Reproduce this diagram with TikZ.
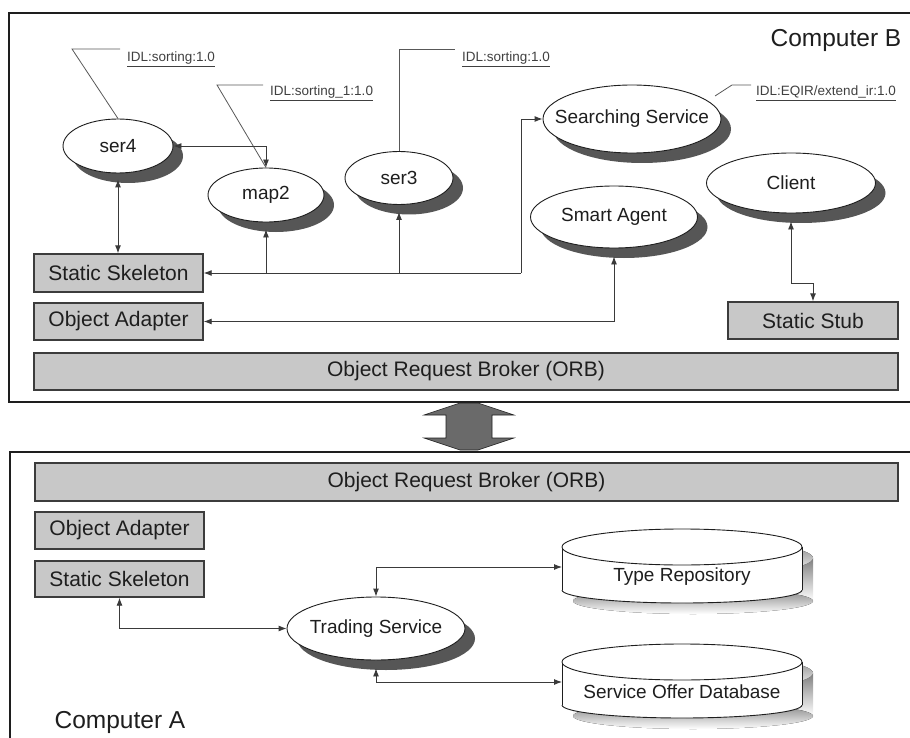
\documentclass[tikz,border=0pt]{standalone}
\usepackage{fontspec}
\setmainfont{Liberation Sans}
\usetikzlibrary{arrows.meta,shadows,shapes.geometric}

\definecolor{boxfill}{HTML}{C8C8C8}
\definecolor{boxline}{HTML}{3C3C3C}
\definecolor{shade}{HTML}{565656}
\definecolor{ink}{HTML}{1E1E1E}
\definecolor{wire}{HTML}{3A3A3A}
\definecolor{bigarrow}{HTML}{6A6A6A}

% database cylinder: #1 name, #2 centre x, #3 centre y of the top cap, #4 label
\newcommand{\drawdb}[4]{%
  \fill[shade] (#2-120+11,#3+11) rectangle (#2+120+11,#3+43+11);
  \fill[shade] (#2+11,#3+11) ellipse [x radius=120, y radius=18];
  \fill[shade] (#2+11,#3+43+11) ellipse [x radius=120, y radius=13];
  \fill[white] (#2-120,#3) rectangle (#2+120,#3+43);
  \fill[white] (#2,#3+43) ellipse [x radius=120, y radius=13];
  \draw[dbline] (#2-120,#3) -- (#2-120,#3+43);
  \draw[dbline] (#2+120,#3) -- (#2+120,#3+43);
  \begin{scope}
    \clip (#2-126,#3+43) rectangle (#2+126,#3+62);
    \draw[dbline] (#2,#3+43) ellipse [x radius=120, y radius=13];
  \end{scope}
  \draw[dbline, fill=white] (#2,#3) ellipse [x radius=120, y radius=18];
  \node[etext] (#1) at (#2,#3+30) {#4};
  \coordinate (#1L) at (#2-120,#3+20);
}

\begin{document}
\begin{tikzpicture}[x=1pt,y=-1pt,
  >={Latex[length=8pt,width=6pt]},
  frame/.style={draw=ink, line width=1.8pt},
  layerbox/.style={draw=boxline, fill=boxfill, line width=1.4pt, inner sep=0pt,
    text=ink, font=\fontsize{21}{25}\selectfont},
  ellip/.style={ellipse, draw=ink, line width=0.9pt, fill=white, inner sep=0pt,
    drop shadow={shadow xshift=10pt, shadow yshift=-10pt, fill=shade, opacity=1}},
  etext/.style={text=ink, font=\fontsize{19}{23}\selectfont, inner sep=0pt},
  dbline/.style={draw=ink, line width=0.9pt},
  conn/.style={draw=wire, line width=0.9pt},
  leader/.style={draw=wire!85!white, line width=0.8pt},
  idl/.style={text=ink!85!white, font=\fontsize{13.5}{16}\selectfont, inner sep=0pt},
  title/.style={text=ink, font=\fontsize{24.5}{29}\selectfont, inner sep=0pt}
]
\useasboundingbox (0,0) rectangle (910,738);

% machine frames
\draw[frame] (910,13) -- (9,13) -- (9,402) -- (910,402);
\draw[frame] (910,452) -- (10,452) -- (10,738);

% link between the two brokers
\filldraw[fill=bigarrow, draw=ink, line width=0.6pt]
  (460,403) -- (478,403) -- (514,415) -- (492,415) -- (492,438) -- (514,438) --
  (478,450) -- (460,450) -- (424,438) -- (446,438) -- (446,415) -- (424,415) -- cycle;

% ---------------- Computer B ----------------
\node[title] (compB) at (836,40) {Computer B};

\node[layerbox, minimum width=169, minimum height=38] (ss1) at (118.5,273) {Static Skeleton};
\node[layerbox, minimum width=169, minimum height=37] (oa1) at (118.5,321.5) {Object Adapter};
\node[layerbox, minimum width=170, minimum height=37] (stub) at (813,320.5) {Static Stub};
\node[layerbox, minimum width=864, minimum height=37] (orb1) at (466,371.5) {Object Request Broker (ORB)};

\node[ellip, minimum width=110, minimum height=54, label={[etext]center:ser4}] (ser4) at (118,146) {};
\node[ellip, minimum width=116, minimum height=54, label={[etext]center:map2}] (map2) at (266,195) {};
\node[ellip, minimum width=108, minimum height=53, label={[etext]center:ser3}] (ser3) at (399,178) {};
\node[ellip, minimum width=178, minimum height=68, label={[etext]center:Searching Service}] (search) at (632,119) {};
\node[ellip, minimum width=167, minimum height=62, label={[etext]center:Smart Agent}] (agent) at (614,217) {};
\node[ellip, minimum width=169, minimum height=60, label={[etext]center:Client}] (client) at (791,183) {};

% interface identifiers
\node[idl, anchor=base west] (idl1) at (127,62) {\underline{IDL:sorting:1.0}};
\node[idl, anchor=base west] (idl2) at (270,96) {\underline{IDL:sorting\_1:1.0}};
\node[idl, anchor=base west] (idl3) at (462,62) {\underline{IDL:sorting:1.0}};
\node[idl, anchor=base west] (idl4) at (756,96) {\underline{IDL:EQIR/extend\_ir:1.0}};

\coordinate (k1) at (72,49);
\coordinate (k2) at (217,85);
\coordinate (k4) at (732,85);
\coordinate (s4) at (715,96);
\coordinate (e1) at ([xshift=-7pt]idl1.north west);
\coordinate (e2) at ([xshift=-7pt]idl2.north west);
\coordinate (e3) at ([xshift=-7pt]idl3.north west);
\coordinate (e4) at ([xshift=-5pt]idl4.north west);
\draw[leader] (ser4.north) -- (k1) -- (k1 -| e1);
\draw[leader] (map2.north) -- (k2) -- (k2 -| e2);
\draw[leader] (ser3.north) -- (ser3.north |- k1) -- (k1 -| e3);
\draw[leader] (s4) -- (k4) -- (k4 -| e4);

% skeleton bus
\coordinate (busR) at (521,273);
\coordinate (cbend) at (0,283);
\draw[conn,<->] ([yshift=-6pt]ser4.south) -- (ser4.south |- ss1.north);
\draw[conn,<->] (ser4.east) -| (map2.north);
\draw[conn,<-] (ss1.east) -- (busR);
\draw[conn,->] (busR) |- (search.west);
\draw[conn,->] (map2.south |- ss1.east) -- ([yshift=-7pt]map2.south);
\draw[conn,->] (ser3.south |- ss1.east) -- ([yshift=-7pt]ser3.south);
\draw[conn,<->] ([yshift=-8pt]agent.south) |- (oa1.east);
\draw[conn,<->] ([yshift=-8pt]client.south) -- (client.south |- cbend) -| (stub.north);

% ---------------- Computer A ----------------
\node[title] (compA) at (120,722) {Computer A};

\node[layerbox, minimum width=863, minimum height=38] (orb2) at (466.5,482) {Object Request Broker (ORB)};
\node[layerbox, minimum width=169, minimum height=37] (oa2) at (119.5,530.5) {Object Adapter};
\node[layerbox, minimum width=169, minimum height=36] (ss2) at (119.5,579) {Static Skeleton};

\node[ellip, minimum width=178, minimum height=63, label={[etext]center:Trading Service}] (trade) at (376,628.5) {};

\drawdb{tr}{682}{547}{Type Repository}
\drawdb{sod}{682}{662}{Service Offer Database}

\draw[conn,<->] (ss2.south) |- (trade.west);
\draw[conn,<->] (trade.north) |- (trL);
\draw[conn,<->] ([yshift=-8pt]trade.south) |- (sodL);
\end{tikzpicture}
\end{document}
